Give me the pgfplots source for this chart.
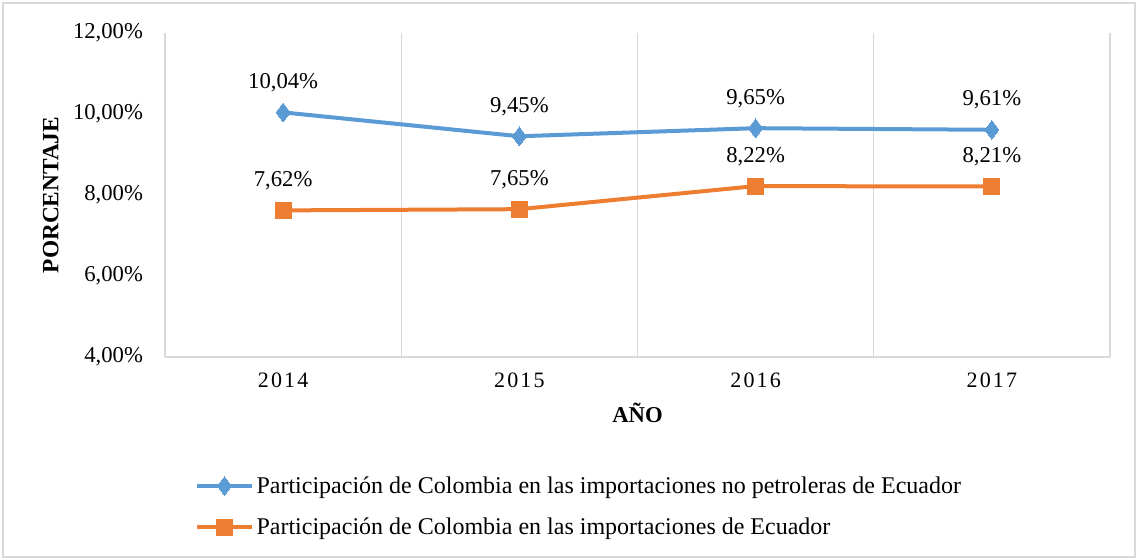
\documentclass[border=0pt]{standalone}
\usepackage{pgfplots}
\pgfplotsset{compat=1.18}
\usepackage{fontspec}
\setmainfont{Liberation Serif}
\definecolor{cblue}{HTML}{5B9BD5}
\definecolor{corange}{HTML}{ED7D31}
\definecolor{gridgray}{HTML}{D9D9D9}
\begin{document}
\begin{tikzpicture}
\path[use as bounding box] (-123.75pt,-152.25pt) rectangle (729.75pt,267.75pt);
\draw[gridgray,line width=1pt] (-121.5pt,-150pt) rectangle (727.5pt,265.5pt);
\begin{axis}[
  scale only axis,
  width=708.75pt, height=243pt,
  xmin=-0.5, xmax=3.5, ymin=4, ymax=12,
  xtick={0,1,2,3},
  xticklabels={2014,2015,2016,2017},
  xticklabel style={font=\fontsize{16.5}{19}\selectfont\addfontfeature{LetterSpace=10}, yshift=-8pt},
  ytick={4,6,8,10,12},
  yticklabel={\pgfmathprintnumber[fixed,fixed zerofill,precision=2,use comma]{\tick}\%},
  yticklabel style={font=\fontsize{17}{20}\selectfont, xshift=-13pt},
  /pgf/number format/assume math mode=true,
  axis x line*=bottom, axis y line*=left,
  axis line style={gridgray, line width=1pt},
  x axis line style={-}, y axis line style={-},
  major tick length=0pt,
  extra x ticks={-0.5,0.5,1.5,2.5,3.5},
  extra x tick labels={},
  extra x tick style={grid=major, major grid style={gridgray, line width=1pt}},
  xlabel={\textbf{AÑO}},
  xlabel style={font=\fontsize{17}{20}\selectfont, yshift=-5pt},
  ylabel={\textbf{PORCENTAJE}},
  ylabel style={font=\fontsize{17.5}{20}\selectfont, yshift=4pt},
  nodes near coords={\pgfmathprintnumber[fixed,fixed zerofill,precision=2,use comma]{\pgfplotspointmeta}\%},
  nodes near coords style={font=\fontsize{17}{20}\selectfont, black, yshift=12pt},
  legend style={draw=none, at={(0.0317,-0.36)}, anchor=north west,
    font=\fontsize{18}{21}\selectfont, row sep=13pt, inner sep=0pt,
    /tikz/every node/.append style={inner xsep=2pt}},
  legend cell align=left,
  legend image code/.code={%
    \draw[mark repeat=2,mark phase=2] plot coordinates {(0pt,0pt) (20.5pt,0pt) (41pt,0pt)};},
  clip=false,
]
\addplot[cblue, line width=3pt, mark=diamond*, mark size=7pt, mark options={line width=0pt}]
  coordinates {(0,10.04) (1,9.45) (2,9.65) (3,9.61)};
\addlegendentry{Participación de Colombia en las importaciones no petroleras de Ecuador}
\addplot[corange, line width=3pt, mark=square*, mark size=6pt, mark options={line width=0pt}]
  coordinates {(0,7.62) (1,7.65) (2,8.22) (3,8.21)};
\addlegendentry{Participación de Colombia en las importaciones de Ecuador}
\end{axis}
\end{tikzpicture}
\end{document}
